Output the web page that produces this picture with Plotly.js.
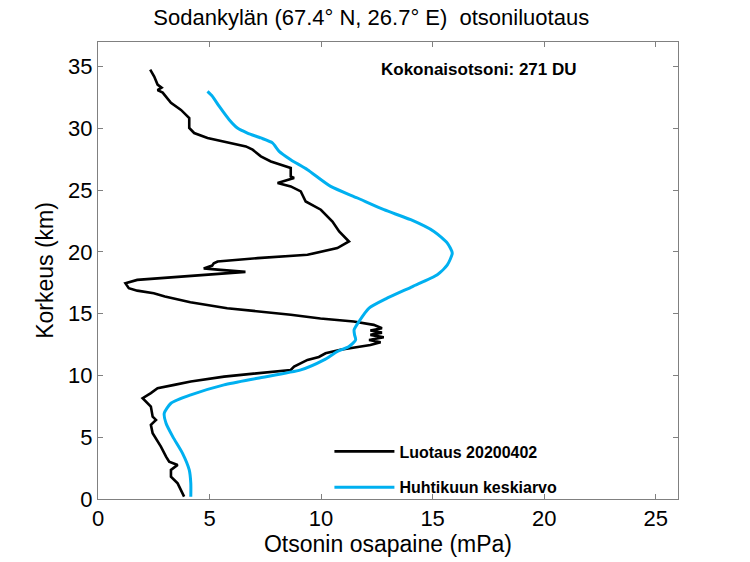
<!DOCTYPE html>
<html>
<head>
<meta charset="utf-8">
<script src="https://cdn.plot.ly/plotly-3.0.1.min.js"></script>
<style>html,body{margin:0;padding:0;background:#fff;}#chart{width:750px;height:562px;}</style>
</head>
<body>
<div id="chart"></div>
<script>
// Sounding 2020-04-02 (black): ozone partial pressure (mPa) vs altitude (km)
const soundingAlt = [0.19,1.27,1.81,2.35,2.76,3.02,3.43,4.24,5.32,6.0,6.4,6.67,7.48,7.88,8.16,8.57,8.97,9.24,9.51,9.91,10.19,10.45,10.72,11.26,11.5,11.8,12.08,12.34,12.47,12.69,12.88,13.1,13.29,13.47,13.64,13.83,14.1,14.37,14.62,14.92,15.18,15.45,15.93,16.04,16.4,16.66,16.87,17.07,17.47,17.74,17.96,18.23,18.39,18.55,18.67,18.9,19.08,19.23,19.5,19.77,20.32,20.85,21.66,22.47,23.42,24.09,24.9,25.31,25.58,25.99,26.12,26.8,26.93,27.33,27.74,28.28,28.55,28.83,29.1,29.23,29.63,30.04,30.85,31.5,32.07,32.9,33.1,33.3,33.55,34.2,34.76];
const soundingO3  = [3.86,3.57,3.27,3.27,3.57,3.19,3.05,2.82,2.45,2.37,2.6,2.45,2.37,2.15,2.0,2.37,2.67,3.42,4.16,5.65,7.15,8.64,8.79,9.39,9.9,10.2,10.87,11.9,12.21,12.67,12.15,12.81,12.21,12.73,12.21,12.73,12.36,11.46,9.97,8.64,7.28,5.79,4.14,3.84,3.0,2.5,1.76,1.38,1.23,1.76,3.55,5.49,6.61,5.49,4.74,5.12,5.19,5.36,7.15,9.39,10.73,11.25,10.81,10.51,9.99,9.31,9.09,8.64,8.05,8.79,8.64,8.64,8.42,7.75,7.3,6.93,6.63,5.96,5.36,4.91,4.31,4.09,4.09,3.72,3.27,2.9,2.67,2.85,2.67,2.52,2.34];
// April mean (blue)
const meanAlt = [0.19,1.27,2.35,3.7,5.05,6.13,6.94,7.75,8.43,9.24,9.78,10.45,11.26,11.94,12.34,12.88,13.3,13.7,14.37,15.45,16.2,17.2,18.15,18.96,19.91,20.72,21.66,22.61,23.42,24.37,25.31,26.66,27.47,28.15,28.83,29.23,29.63,30.04,30.71,31.8,32.6,33.0];
const meanO3  = [4.16,4.16,4.09,3.79,3.35,3.05,2.97,3.27,4.16,5.65,7.15,9.09,10.13,10.73,11.25,11.55,11.5,11.48,11.7,12.15,12.9,14.1,15.21,15.66,15.88,15.66,15.06,14.02,12.82,11.63,10.43,9.39,8.64,8.12,7.82,7.3,6.7,6.25,5.88,5.43,5.13,4.91];

const seriesNames = ['Luotaus 20200402', 'Huhtikuun keskiarvo'];
const xTicks = [0,5,10,15,20,25];
const yTicks = [0,5,10,15,20,25,30,35];
const titleText = 'Sodankylän (67.4° N, 26.7° E)\u00a0\u00a0otsoniluotaus';
const totalOzoneText = 'Kokonaisotsoni: 271 DU';
const xTitle = 'Otsonin osapaine (mPa)';
const yTitle = 'Korkeus (km)';

const font = 'Liberation Sans, Arial, sans-serif';

const traces = [
  {x: soundingO3, y: soundingAlt, name: seriesNames[0], mode: 'lines', legendgroup: 'a',
   line: {color: '#000000', width: 2.6}},
  {x: meanO3, y: meanAlt, name: seriesNames[1], mode: 'lines', legendgroup: 'b',
   line: {color: '#00B0F0', width: 3, shape: 'spline', smoothing: 0.6}}
];

const axisCommon = {
  showgrid: false, zeroline: false, showline: true, linecolor: '#808080', linewidth: 1,
  mirror: 'ticks', ticks: 'inside', ticklen: 5, tickcolor: '#808080',
  tickfont: {family: font, size: 22, color: '#000'}
};

const layout = {
  width: 750, height: 562,
  margin: {l: 97.5, r: 72, t: 42, b: 62.7},
  paper_bgcolor: '#fff', plot_bgcolor: '#fff',
  title: {text: titleText, x: 0.495, xref: 'container', y: 0.97, yanchor: 'middle',
          font: {family: font, size: 22, color: '#000'}},
  xaxis: Object.assign({}, axisCommon, {range: [0, 26], tickvals: xTicks,
          title: {text: xTitle, standoff: 0, font: {family: font, size: 23, color: '#000'}}}),
  yaxis: Object.assign({}, axisCommon, {range: [0, 37], tickvals: yTicks,
          title: {text: yTitle, standoff: 8, font: {family: font, size: 23, color: '#000'}}}),
  showlegend: true,
  legend: {x: 0.399, y: -0.012, xanchor: 'left', yanchor: 'bottom', traceorder: 'grouped',
           tracegroupgap: 12, itemwidth: 60, bgcolor: 'rgba(0,0,0,0)',
           font: {family: font, size: 16, color: '#000', weight: 'bold'}},
  annotations: [{text: '<b>' + totalOzoneText + '</b>', xref: 'paper', yref: 'paper',
                 x: 0.657, y: 0.939, xanchor: 'center', yanchor: 'middle', showarrow: false,
                 font: {family: font, size: 17, color: '#000'}}]
};

Plotly.newPlot('chart', traces, layout, {displayModeBar: false, staticPlot: true});
</script>
</body>
</html>
